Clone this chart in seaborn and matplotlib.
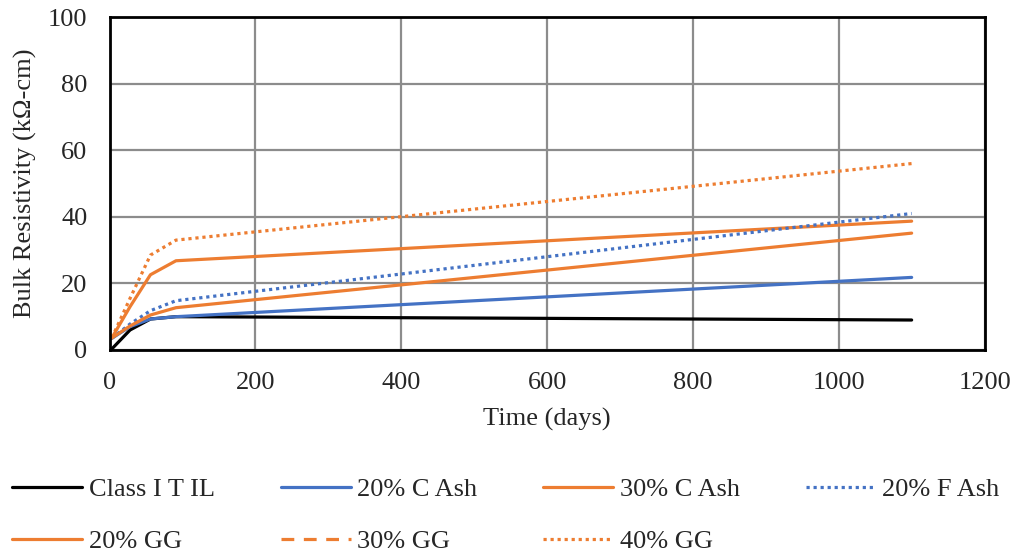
import numpy as np
import pandas as pd
import matplotlib
matplotlib.use("Agg")
import matplotlib.pyplot as plt
import seaborn as sns

# umur benda uji (hari)
days = [3, 28, 56, 91, 1100]

class_i_t_il = [0.3, 6.0, 9.3, 10.0, 9.0]
c_ash_20 = [3.5, 7.0, 9.3, 10.0, 21.8]
c_ash_30 = [3.6, 13.0, 22.6, 26.8, 38.7]
f_ash_20 = [3.5, 7.8, 11.8, 14.8, 41.0]
gg_20 = [3.6, 7.2, 10.5, 12.7, 35.1]
gg_30 = []  # tidak tampak pada grafik
gg_40 = [3.6, 15.5, 28.5, 33.0, 56.0]

series_names = ["Class I T IL", "20% C Ash", "30% C Ash", "20% F Ash",
                "20% GG", "30% GG", "40% GG"]
series_vals = [class_i_t_il, c_ash_20, c_ash_30, f_ash_20, gg_20, gg_30, gg_40]

blue = "#4472C4"
orange = "#ED7D31"
colors = ["black", blue, orange, blue, orange, orange, orange]
styles = ["-", "-", "-", (0, (1, 1.2)), "-", (0, (4, 3)), (0, (1, 1.2))]

sns.set_style("white")
plt.rcParams["font.family"] = ["Liberation Serif", "DejaVu Serif"]

fig, ax = plt.subplots(figsize=(10.15, 5.52), dpi=100)
fig.subplots_adjust(left=0.108, right=0.970, top=0.969, bottom=0.366)

handles = {}
for name, vals, c, ls in zip(series_names, series_vals, colors, styles):
    if len(vals) == 0:
        h, = ax.plot([], [], color=c, lw=2.3, linestyle=ls)
    else:
        df = pd.DataFrame({"days": days, "rho": vals})
        sns.lineplot(data=df, x="days", y="rho", ax=ax, color=c, lw=2.3,
                     linestyle=ls, legend=False)
        h = ax.lines[-1]
    handles[name] = h

ax.set_xlim(0, 1200)
ax.set_ylim(0, 100)
ax.set_xticks(np.arange(0, 1201, 200))
ax.set_yticks(np.arange(0, 101, 20))
ax.grid(True, color="#8c8c8c", lw=1.6)
ax.set_axisbelow(True)
for sp in ax.spines.values():
    sp.set_color("black")
    sp.set_linewidth(2.0)
ax.tick_params(axis="y", length=0, labelsize=19, pad=16)
ax.tick_params(axis="x", length=0, labelsize=19, pad=16)
ax.set_xlabel("Time (days)", fontsize=19, labelpad=10)
ax.set_ylabel("Bulk Resistivity (k\u03a9-cm)", fontsize=19, labelpad=8)

# urutan kolom agar legenda terbaca per baris
order = ["Class I T IL", "20% GG", "20% C Ash", "30% GG",
         "30% C Ash", "40% GG", "20% F Ash"]
fig.legend([handles[n] for n in order], order, loc="upper left",
           bbox_to_anchor=(0.012, 0.135), ncol=4, frameon=False, fontsize=19,
           handlelength=2.65, columnspacing=2.5, handletextpad=0.25,
           labelspacing=1.1, borderpad=0, borderaxespad=0)

plt.savefig("out.png", dpi=100)
